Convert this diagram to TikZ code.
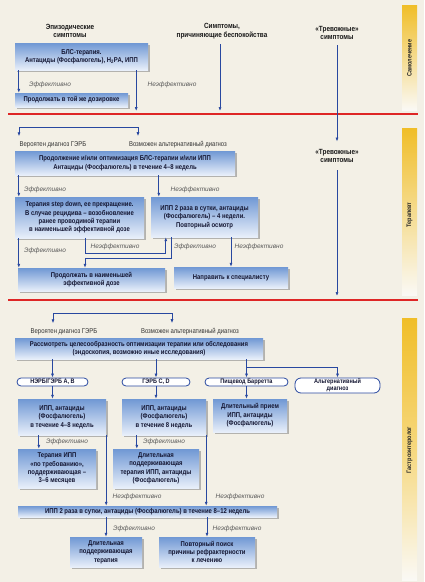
\documentclass[tikz,border=0pt]{standalone}
\usepackage{fontspec}
\setmainfont{Liberation Sans}[FakeStretch=0.85]
\newfontfamily\lblfont{Liberation Sans}
\usetikzlibrary{shadows, arrows.meta}

\definecolor{paper}{RGB}{243,240,230}
\definecolor{boxtop}{RGB}{112,152,212}
\definecolor{boxbot}{RGB}{232,239,250}
\definecolor{arrowblue}{RGB}{40,72,160}
\definecolor{boxtext}{RGB}{20,22,50}
\definecolor{redline}{RGB}{222,38,38}
\definecolor{baryellow}{RGB}{240,190,40}

\tikzset{
  bluebox/.style={top color=boxtop, bottom color=boxbot, text=boxtext, align=center,
    inner sep=1pt, font=\bfseries\fontsize{7}{8.4}\selectfont,
    drop shadow={shadow xshift=1.6pt, shadow yshift=-1.6pt, fill=black!50, opacity=0.55}},
  pill/.style={draw=arrowblue, line width=0.8pt, fill=white, rounded corners=4pt,
    text=boxtext, align=center, inner sep=0.5pt, font=\bfseries\fontsize{6.5}{7}\selectfont},
  head/.style={align=center, text=black!90, font=\bfseries\fontsize{7.5}{8.6}\selectfont},
  diag/.style={text=black!80, font=\fontsize{7}{8}\selectfont},
  lbl/.style={text=black!65, font=\lblfont\itshape\fontsize{6.5}{7}\selectfont},
  side/.style={rotate=90, text=black!85, font=\bfseries\fontsize{6.5}{7}\selectfont},
  arr/.style={draw=arrowblue, line width=0.7pt, -{Latex[length=4pt,width=3pt]}},
  conn/.style={draw=arrowblue, line width=0.7pt},
  divider/.style={draw=redline, line width=1.1pt},
}

\begin{document}
\begin{tikzpicture}[x=1pt, y=-1pt]
  \useasboundingbox[fill=paper] (0,0) rectangle (424,582);

  % side bars
  \shade[top color=baryellow, bottom color=paper!40!white] (402,5) rectangle (417,110);
  \shade[top color=baryellow, bottom color=paper!40!white] (402,128) rectangle (417,295);
  \shade[top color=baryellow, bottom color=paper!40!white, middle color=baryellow!60!white] (402,318) rectangle (417,580);
  \node[side] (self) at (409.5,58) {Самолечение};
  \node[side] (gp) at (409.5,215) {Терапевт};
  \node[side] (gastro) at (409.5,450) {Гастроэнтеролог};

  \coordinate (r1a) at (8,114);
  \coordinate (r1b) at (418,114);
  \coordinate (r2a) at (8,300);
  \coordinate (r2b) at (418,300);
  \draw[divider] (r1a) -- (r1b);
  \draw[divider] (r2a) -- (r2b);

  % self-treatment
  \node[head] (episodic) at (70,31) {Эпизодические\\симптомы};
  \node[head] (bother) at (222,31) {Симптомы,\\причиняющие беспокойства};
  \node[head] (alarm1) at (337,33) {«Тревожные»\\симптомы};
  \node[bluebox, minimum width=133, minimum height=27] (bls) at (81.5,56.5)
    {БЛС-терапия.\\Антациды (Фосфалюгель), H\textsubscript{2}PA, ИПП};
  \node[bluebox, minimum width=113, minimum height=14] (same) at (71.5,100)
    {Продолжать в той же дозировке};
  \coordinate (stop1) at (0,111);
  \draw[arr] ([xshift=4pt]bls.south west) -- ([xshift=4pt]bls.south west |- same.north);
  \draw[arr] ([xshift=-12pt]bls.south east) -- ([xshift=-12pt]bls.south east |- stop1);
  \draw[arr] ([xshift=-2pt, yshift=-2pt]bother.south) -- ([xshift=-2pt]bother.south |- stop1);
  \node[lbl] (eff1) at (50,85) {Эффективно};
  \node[lbl] (ineff1) at (172,85) {Неэффективно};

  % therapist
  \node[head] (alarm2) at (337,156) {«Тревожные»\\симптомы};
  \coordinate (stop2) at (0,296);
  \draw[arr] ([yshift=-2pt]alarm1.south) -- ([yshift=4pt]alarm2.north);
  \draw[arr] ([yshift=-4pt]alarm2.south) -- (alarm2.south |- stop2);

  \coordinate (fork1l) at (19,127);
  \coordinate (fork1r) at (138,127);
  \node[diag] (gerd1) at (53,145) {Вероятен диагноз ГЭРБ};
  \node[diag] (alt1) at (178,145) {Возможен альтернативный диагноз};
  \draw[conn] (fork1l) -- (fork1r);
  \draw[arr] (fork1l) -- ([yshift=2pt]fork1l |- gerd1.north);
  \draw[arr] (fork1r) -- ([yshift=2pt]fork1r |- alt1.north);

  \node[bluebox, minimum width=220, minimum height=24] (optim) at (125,163)
    {Продолжение и/или оптимизация БЛС-терапии и/или ИПП\\Антациды (Фосфалюгель) в течение 4–8 недель};
  \node[bluebox, minimum width=129, minimum height=41] (stepdown) at (79.5,217.5)
    {Терапия step down, ее прекращение.\\В случае рецидива – возобновление\\ранее проводимой терапии\\в наименьшей эффективной дозе};
  \node[bluebox, minimum width=107, minimum height=40] (twice4) at (204.5,217)
    {ИПП 2 раза в сутки, антациды\\(Фосфалюгель) – 4 недели.\\Повторный осмотр};
  \node[bluebox, minimum width=147, minimum height=23] (lowdose) at (91.5,279.5)
    {Продолжать в наименьшей\\эффективной дозе};
  \node[bluebox, minimum width=114, minimum height=21] (refer) at (231,277.5)
    {Направить к специалисту};

  \draw[arr] ([xshift=4pt]optim.south west) -- ([xshift=4pt]optim.south west |- stepdown.north);
  \draw[arr] ([xshift=8pt]twice4.north west |- optim.south) -- ([xshift=8pt]twice4.north west);
  \draw[arr] ([xshift=4pt]stepdown.south west) -- ([xshift=4pt]stepdown.south west |- lowdose.north);
  \draw[arr] ([xshift=6pt]stepdown.south) -- ++(0,15) -| ([xshift=15pt]twice4.south west);
  \draw[arr] ([xshift=21pt]twice4.south west) -- ++(0,21) -| ([xshift=-6.5pt]lowdose.north);
  \draw[arr] (twice4.south -| refer.north) -- (refer.north);
  \node[lbl] (eff2) at (45,190) {Эффективно};
  \node[lbl] (ineff2) at (195,190) {Неэффективно};
  \node[lbl] (eff3) at (45,251) {Эффективно};
  \node[lbl] (ineff3) at (115,247) {Неэффективно};
  \node[lbl] (eff4) at (195,247) {Эффективно};
  \node[lbl] (ineff4) at (259,247) {Неэффективно};

  % gastroenterologist
  \coordinate (fork2l) at (53,313);
  \coordinate (fork2r) at (172,313);
  \node[diag] (gerd2) at (64,332) {Вероятен диагноз ГЭРБ};
  \node[diag] (alt2) at (190,332) {Возможен альтернативный диагноз};
  \draw[conn] (fork2l) -- (fork2r);
  \draw[arr] (fork2l) -- ([yshift=2pt]fork2l |- gerd2.north);
  \draw[arr] (fork2r) -- ([yshift=2pt]fork2r |- alt2.north);

  \node[bluebox, minimum width=248, minimum height=21] (consider) at (139,348.5)
    {Рассмотреть целесообразность оптимизации терапии или обследования\\(эндоскопия, возможно иные исследования)};
  \node[pill, minimum width=71, minimum height=8] (nerd) at (52.5,382) {НЭРБ/ГЭРБ А, В};
  \node[pill, minimum width=68, minimum height=8] (gerdcd) at (156,382) {ГЭРБ C, D};
  \node[pill, minimum width=83, minimum height=8] (barrett) at (246.5,382) {Пищевод Барретта};
  \node[pill, minimum width=85, minimum height=15, rounded corners=6pt] (altdx) at (337.5,385.5)
    {Альтернативный\\диагноз};
  \foreach \p in {nerd, gerdcd, barrett}
    \draw[arr] (consider.south -| \p.north) -- (\p.north);
  \draw[arr] ([yshift=10pt]barrett.north) -| (altdx.north);

  \node[bluebox, minimum width=88, minimum height=36] (ppi48) at (62,417)
    {ИПП, антациды\\(Фосфалюгель)\\в течение 4–8 недель};
  \node[bluebox, minimum width=84, minimum height=36] (ppi8) at (164,417)
    {ИПП, антациды\\(Фосфалюгель)\\в течение 8 недель};
  \node[bluebox, minimum width=74, minimum height=33] (longppi) at (250,415.5)
    {Длительный прием\\ИПП, антациды\\(Фосфалюгель)};
  \foreach \a/\b in {nerd/ppi48, gerdcd/ppi8, barrett/longppi}
    \draw[arr] (\a.south) -- (\a.south |- \b.north);

  \node[bluebox, minimum width=78, minimum height=39] (ondemand) at (57,468.5)
    {Терапия ИПП\\«по требованию»,\\поддерживающая –\\3–6 месяцев};
  \node[bluebox, minimum width=86, minimum height=39] (maint) at (156,468.5)
    {Длительная\\поддерживающая\\терапия ИПП, антациды\\(Фосфалюгель)};
  \draw[arr] ([xshift=21pt]ppi48.south west) -- ([xshift=21pt]ppi48.south west |- ondemand.north);
  \draw[arr] ([xshift=15pt]ppi8.south west) -- ([xshift=15pt]ppi8.south west |- maint.north);
  \node[lbl] (eff5) at (67,442) {Эффективно};
  \node[lbl] (eff6) at (164,442) {Эффективно};

  \node[bluebox, minimum width=259, minimum height=11] (twice812) at (147.5,511.5)
    {ИПП 2 раза в сутки, антациды (Фосфалюгель) в течение 8–12 недель};
  \draw[arr] (ppi48.south east) -- (ppi48.south east |- twice812.north);
  \draw[arr] (ppi8.south east) -- (ppi8.south east |- twice812.north);
  \node[lbl] (ineff5) at (137,497) {Неэффективно};
  \node[lbl] (ineff6) at (240,497) {Неэффективно};

  \node[bluebox, minimum width=72, minimum height=30] (longterm) at (106,552)
    {Длительная\\поддерживающая\\терапия};
  \node[bluebox, minimum width=96, minimum height=30] (research) at (207,552)
    {Повторный поиск\\причины рефрактерности\\к лечению};
  \draw[arr] (twice812.south -| longterm.north) -- (longterm.north);
  \draw[arr] (twice812.south -| research.north) -- (research.north);
  \node[lbl] (eff7) at (134,529) {Эффективно};
  \node[lbl] (ineff7) at (237,529) {Неэффективно};
\end{tikzpicture}
\end{document}
